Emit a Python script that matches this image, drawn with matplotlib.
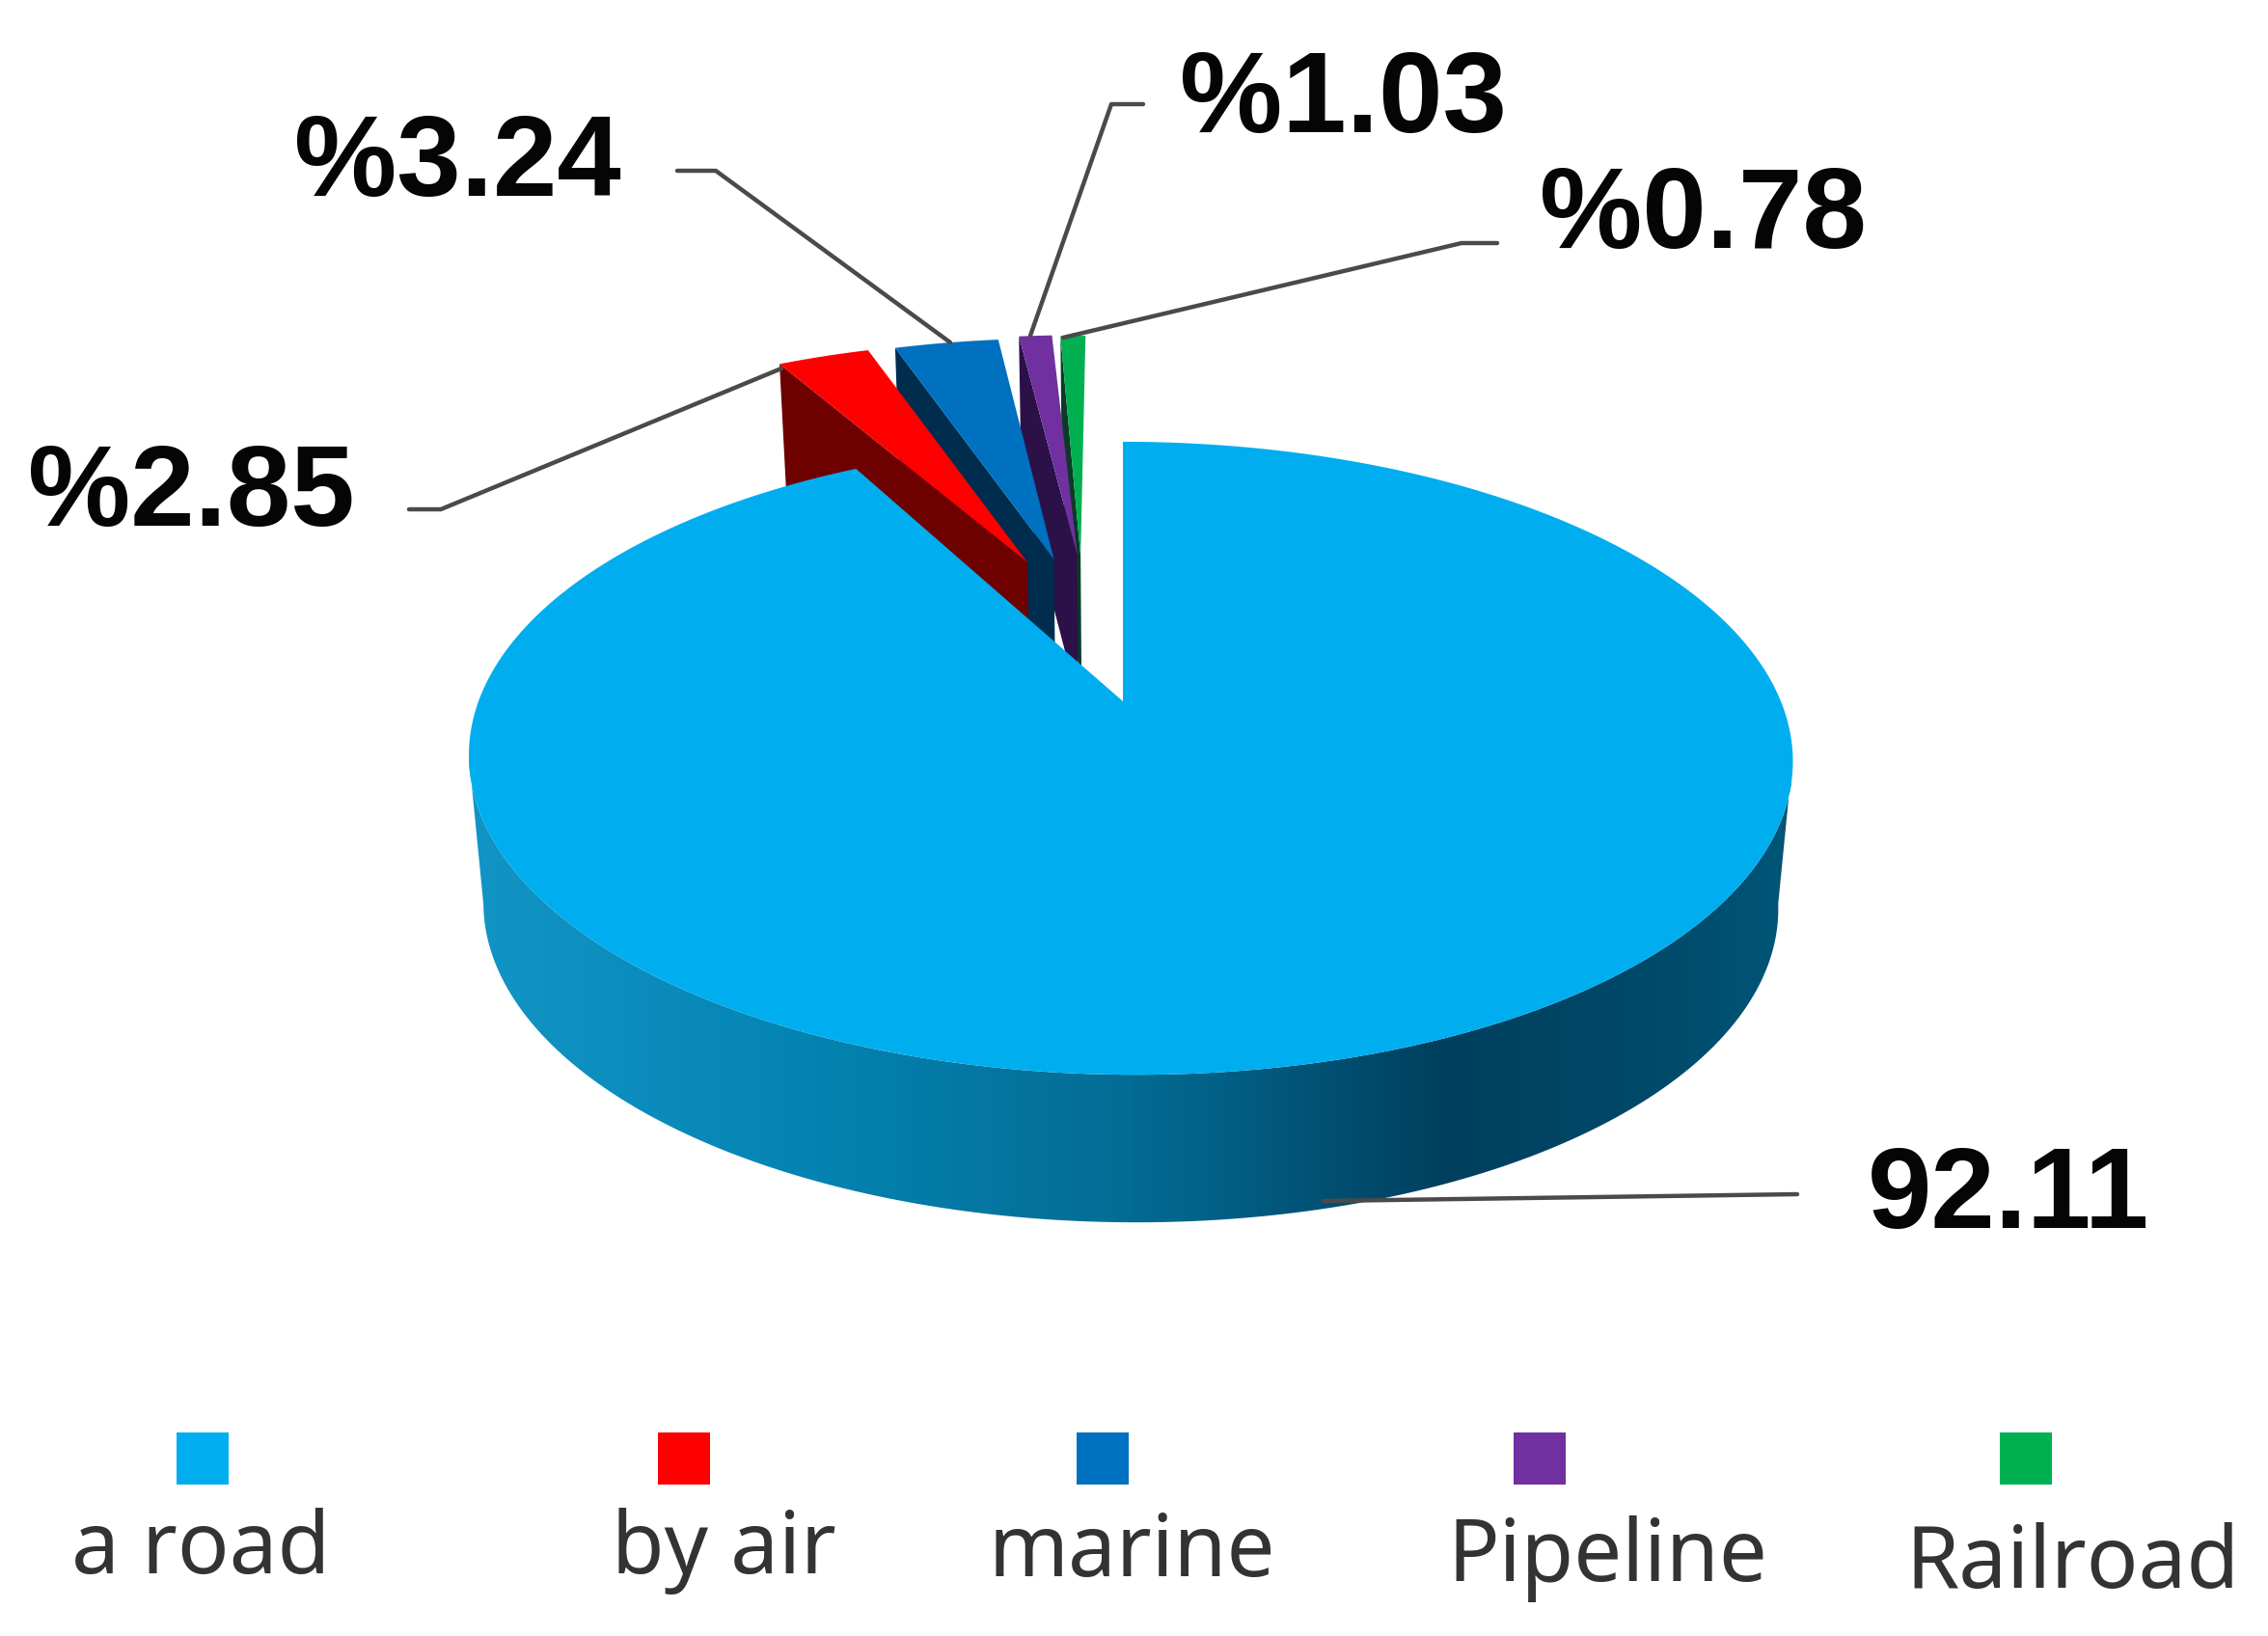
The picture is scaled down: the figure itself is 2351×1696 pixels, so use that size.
import numpy as np
import matplotlib
matplotlib.use("Agg")
import matplotlib.pyplot as plt
from matplotlib.colors import LinearSegmentedColormap
from matplotlib.patches import Polygon, Rectangle

categories = ["a road", "by air", "marine", "Pipeline", "Railroad"]
values = [92.11, 2.85, 3.24, 1.03, 0.78]
value_labels = ["92.11", "%2.85", "%3.24", "%1.03", "%0.78"]

top_colors = ["#00AEEF", "#FF0000", "#0070C0", "#7030A0", "#00B050"]
wall_colors = [None, "#6E0000", "#002C4E", "#2C1048", "#0C3A28"]

# layout in image pixels
W, H = 2351, 1696
APEX_X, APEX_Y = 1164, 727
RX, RY, PERSP = 675, 317.5, 0.18
RIM_SKEW = 7
DEPTH = 153
DEPTH_SHRINK = 0.022
EXPLODE = [0, 0.538, 0.518, 0.525, 0.52]
NUDGE_X = [0, 17, -10, -25, -32]
TIP_NUDGE_X = [0, 16, 7, 4, -4]

LABEL_POS = [(2082, 1243), (198, 515), (474, 172), (1392, 107), (1765, 226)]
LEADERS = [
    [(1863, 1238), (1372, 1245)],
    [(424, 528), (457, 528), (810, 382)],
    [(702, 177), (742, 177), (985, 355)],
    [(1185, 108), (1152, 108), (1068, 348)],
    [(1552, 252), (1515, 252), (1102, 350)],
]
LEGEND_X = [210, 709, 1143, 1596, 2100]
LEGEND_TEXT = [(208, 1608), (750, 1608), (1173, 1611), (1666, 1616), (2148, 1623)]


def project(px, py, nudge=0.0, depth=0.0):
    w = 1 + PERSP * py
    x = APEX_X + RX * px / w + nudge
    y = APEX_Y - RY * py / w
    if depth:
        x = 1171 + (x - 1171) * (1 - DEPTH_SHRINK * depth)
        y = y + DEPTH * depth
    return x, y


def rim(theta):
    # road rim, with a small skew so the ellipse leans like the reference
    px, py = np.sin(theta), np.cos(theta)
    return px, py, RIM_SKEW * (1 - py)


fig = plt.figure(figsize=(W / 100, H / 100), dpi=100)
ax = fig.add_axes([0, 0, 1, 1])

edges = np.radians(np.cumsum([0] + values) * 360 / sum(values))

# side wall of the big slice, with its shading
t = np.radians(np.linspace(100, 260, 160))
px, py, skew = rim(t)
x1, y1 = project(px, py, skew)
x2, y2 = project(px, py, skew, 1.0)
wall_poly = Polygon(np.r_[np.c_[x1, y1], np.c_[x2, y2][::-1]], closed=True, fc="none", ec="none")
ax.add_patch(wall_poly)
shade = LinearSegmentedColormap.from_list(
    "wall",
    [(0.0, "#1295C6"), (0.25, "#0484B3"), (0.5, "#036C94"), (0.62, "#02567A"),
     (0.74, "#003F5E"), (0.9, "#004A6A"), (1.0, "#005678")],
)
im = ax.imshow(np.linspace(0, 1, 256)[None, :], cmap=shade, aspect="auto",
               extent=(485, 1857, 1300, 780), zorder=1)
im.set_clip_path(wall_poly)

# small slices, back to front
for i in [4, 3, 2, 1]:
    a0, a1 = edges[i], edges[i + 1]
    mid = (a0 + a1) / 2
    ox, oy = EXPLODE[i] * np.sin(mid), EXPLODE[i] * np.cos(mid)
    t = np.linspace(a0, a1, 20)
    x, y = project(ox + np.sin(t), oy + np.cos(t), NUDGE_X[i])
    ax0, ay0 = project(ox, oy, NUDGE_X[i] + TIP_NUDGE_X[i])
    lx0, ly0 = project(ox + np.sin(a0), oy + np.cos(a0), NUDGE_X[i], 1.0)
    lx1, ly1 = project(ox, oy, NUDGE_X[i] + TIP_NUDGE_X[i], 1.0)
    ax.add_patch(Polygon([(x[0], y[0]), (ax0, ay0), (lx1, ly1), (lx0, ly0)],
                         closed=True, fc=wall_colors[i], ec="none", zorder=2))
    ax.add_patch(Polygon(np.r_[[[ax0, ay0]], np.c_[x, y]], closed=True,
                         fc=top_colors[i], ec="none", zorder=2))

# top of the big slice
t = np.linspace(edges[0], edges[1], 400)
px, py, skew = rim(t)
x, y = project(px, py, skew)
ax.add_patch(Polygon(np.r_[[[APEX_X, APEX_Y]], np.c_[x, y]], closed=True,
                     fc=top_colors[0], ec="none", zorder=3))

for pts, label, pos in zip(LEADERS, value_labels, LABEL_POS):
    xs, ys = zip(*pts)
    ax.plot(xs, ys, color="#4A4A4A", lw=3.2, solid_capstyle="round", zorder=4)
    ax.text(pos[0], pos[1], label, family="Liberation Sans", fontweight="bold", fontsize=86,
            color="#050505", ha="center", va="center", zorder=5)

for name, color, lx, tpos in zip(categories, top_colors, LEGEND_X, LEGEND_TEXT):
    ax.add_patch(Rectangle((lx - 27, 1485), 54, 54, fc=color, ec="none"))
    ax.text(tpos[0], tpos[1], name, family="Noto Sans", fontsize=64, color="#333333",
            ha="center", va="center")

ax.set_xlim(0, W)
ax.set_ylim(H, 0)
ax.axis("off")
fig.savefig("out.png", dpi=100)
